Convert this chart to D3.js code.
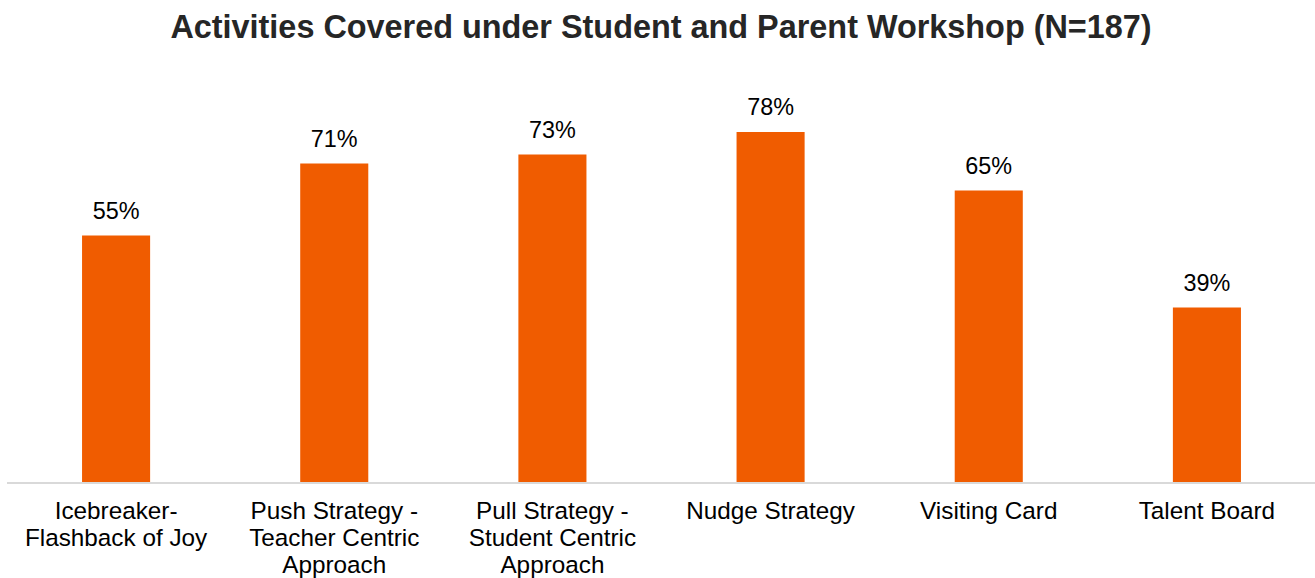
<!DOCTYPE html>
<html>
<head>
<meta charset="utf-8">
<script src="https://cdn.jsdelivr.net/npm/d3@7"></script>
<style>
  html, body { margin: 0; padding: 0; background: #fff; }
  svg { display: block; font-family: "Liberation Sans", Arial, sans-serif; }
</style>
</head>
<body>
<svg id="chart" width="1315" height="578"></svg>
<script>
// Share of workshops that covered each activity
const categories = [
  ["Icebreaker-", "Flashback of Joy"],
  ["Push Strategy -", "Teacher Centric", "Approach"],
  ["Pull Strategy -", "Student Centric", "Approach"],
  ["Nudge Strategy"],
  ["Visiting Card"],
  ["Talent Board"]
];
const values = [55, 71, 73, 78, 65, 39];
const chartTitle = "Activities Covered under Student and Parent Workshop (N=187)";

const width = 1315, height = 578;
const baseline = 483;
const svg = d3.select("#chart");

const keys = categories.map((c, i) => i);
const x = d3.scaleBand()
  .domain(keys)
  .range([7, 1316])
  .paddingInner(0.688)
  .paddingOuter(0.344);

const y = d3.scaleLinear()
  .domain([0, 100])
  .range([baseline, baseline - 450]);

svg.append("text")
  .attr("x", 661)
  .attr("y", 38)
  .attr("text-anchor", "middle")
  .attr("font-size", 32.4)
  .attr("font-weight", "bold")
  .attr("fill", "#262626")
  .text(chartTitle);

svg.selectAll("rect.bar")
  .data(values)
  .join("rect")
  .attr("class", "bar")
  .attr("x", (d, i) => x(i))
  .attr("width", x.bandwidth())
  .attr("y", d => y(d))
  .attr("height", d => y(0) - y(d))
  .attr("fill", "#F05C00");

svg.selectAll("text.value")
  .data(values)
  .join("text")
  .attr("class", "value")
  .attr("x", (d, i) => x(i) + x.bandwidth() / 2)
  .attr("y", d => y(d) - 17)
  .attr("text-anchor", "middle")
  .attr("font-size", 23.4)
  .attr("fill", "#000")
  .text(d => d + "%");

// Category axis with multi-line labels
const axis = svg.append("g")
  .attr("transform", `translate(0,${baseline})`)
  .call(d3.axisBottom(x).tickSize(0).tickFormat(""));
axis.select(".domain").attr("stroke", "#d9d9d9").attr("stroke-width", 2)
  .attr("d", `M7,0H1315`);

axis.selectAll(".tick").each(function(d) {
  const t = d3.select(this).select("text")
    .attr("font-size", 24.3)
    .attr("fill", "#000")
    .attr("font-family", "Liberation Sans, Arial, sans-serif")
    .attr("y", 0)
    .attr("dy", null);
  categories[d].forEach((line, k) => {
    t.append("tspan")
      .attr("x", 0)
      .attr("y", 36 + k * 27)
      .text(line);
  });
});
</script>
</body>
</html>
